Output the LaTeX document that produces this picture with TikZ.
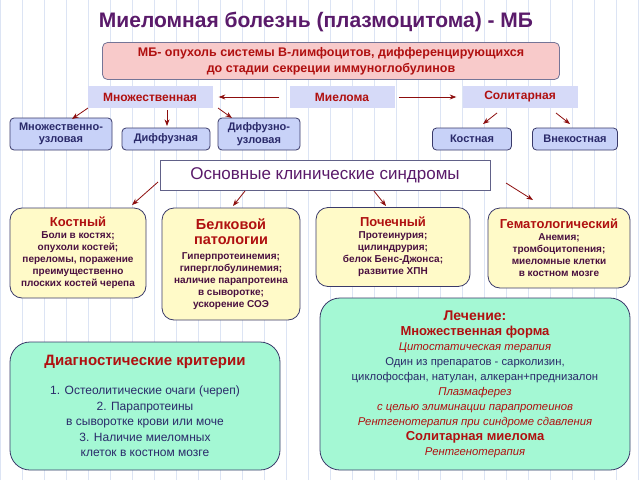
\documentclass[tikz,border=0pt]{standalone}
\usepackage{fontspec}
\setmainfont{Liberation Sans}
\usetikzlibrary{arrows.meta}
\definecolor{titlec}{HTML}{5A1A6A}
\definecolor{redc}{HTML}{B01010}
\definecolor{bodyc}{HTML}{4A1040}
\definecolor{bluec}{HTML}{2A2A6A}
\definecolor{pinkc}{HTML}{F8CACA}
\definecolor{lavc}{HTML}{D6DAF8}
\definecolor{subc}{HTML}{C8D2F8}
\definecolor{yelc}{HTML}{FFFAC8}
\definecolor{mintc}{HTML}{A4F8D4}
\definecolor{edgec}{HTML}{3A3A6A}
\definecolor{gridc}{HTML}{DCE4F4}
\tikzset{>={Stealth[scale=1]}}
\tikzset{
  lbl/.style={fill=lavc, font=\bfseries\fontsize{12}{14}\selectfont, text=redc, inner sep=0pt},
  subbox/.style={draw=edgec, thick, fill=subc, rounded corners=4pt, font=\bfseries\fontsize{11}{12.5}\selectfont, text=bluec, align=center, inner sep=0pt},
  synbox/.style={draw=edgec, thick, fill=yelc, rounded corners=12pt, align=center, inner sep=0pt, text=bodyc, font=\bfseries\fontsize{10}{12}\selectfont},
  bigbox/.style={draw=edgec, thick, fill=mintc, rounded corners=20pt, align=center, inner sep=0pt, text=bluec},
  arr/.style={->, draw=redc!80!black, thick}
}
\newcommand{\hd}[1]{{\color{redc}\fontsize{13}{15}\selectfont #1}}
\newcommand{\hdb}[1]{{\color{redc}\fontsize{14.5}{17}\selectfont #1}}
\begin{document}
\begin{tikzpicture}[x=1pt,y=-1pt]
\useasboundingbox (0,0) rectangle (640,480);
\fill[white] (0,0) rectangle (640,480);
\draw[gridc, step=22] (0,0) grid (640,480);

\node[font=\bfseries\fontsize{21}{24}\selectfont, text=titlec] (title) at (316,22) {Миеломная болезнь (плазмоцитома) - МБ};

\node[draw=edgec!70, thick, fill=pinkc, rounded corners=5pt, minimum width=457, minimum height=37, align=center,
  font=\bfseries\fontsize{12.5}{16}\selectfont, text=redc] (def) at (331,61)
  {МБ- опухоль системы В-лимфоцитов, дифференцирующихся\\до стадии секреции иммуноглобулинов};

\node[lbl, minimum width=125, minimum height=22] (mult) at (150,97) {Множественная};
\node[lbl, minimum width=105, minimum height=22] (myel) at (342,97) {Миелома};
\node[lbl, minimum width=115, minimum height=22] (sol) at (520,97) {Солитарная};
\draw[arr] ([xshift=-10]myel.west) -- ([xshift=6]mult.east);
\draw[arr] ([xshift=4]myel.east) -- ([xshift=-6]sol.west);

\node[subbox, minimum width=102, minimum height=32] (mnu) at (61,134) {Множественно-\\узловая};
\node[subbox, minimum width=88, minimum height=22] (dif) at (166,139) {Диффузная};
\node[subbox, minimum width=82, minimum height=32] (dnu) at (259,134) {Диффузно-\\узловая};
\node[subbox, minimum width=79, minimum height=22] (kost) at (472,139) {Костная};
\node[subbox, minimum width=85, minimum height=22] (vnek) at (575,139) {Внекостная};
\coordinate (m1) at (88,108); \coordinate (m2) at (72,119);
\coordinate (m3) at (167,110); \coordinate (m4) at (167,126);
\coordinate (m5) at (218,108); \coordinate (m6) at (232,118);
\coordinate (s1) at (497,113); \coordinate (s2) at (483,124);
\coordinate (s3) at (556,113); \coordinate (s4) at (570,124);
\draw[arr] (m1) -- (m2);
\draw[arr] (m3) -- (m4);
\draw[arr] (m5) -- (m6);
\draw[arr] (s1) -- (s2);
\draw[arr] (s3) -- (s4);

\node[draw=edgec!80, thick, fill=white, minimum width=330, minimum height=30, text=titlec,
  font=\fontsize{17}{19}\selectfont] (synd) at (325,175) {Основные клинические синдромы};

\node[synbox, minimum width=136, minimum height=90] (bone) at (78,253)
  {\hd{Костный}\\Боли в костях;\\опухоли костей;\\переломы, поражение\\преимущественно\\плоских костей черепа};
\node[synbox, minimum width=138, minimum height=112] (prot) at (231,264)
  {\hdb{Белковой}\\[3pt]\hdb{патологии}\\[3pt]Гиперпротеинемия;\\гиперглобулинемия;\\наличие парапротеина\\в сыворотке;\\ускорение СОЭ};
\node[synbox, minimum width=154, minimum height=79] (kid) at (393,247)
  {\hd{Почечный}\\Протеинурия;\\цилиндрурия;\\белок Бенс-Джонса;\\развитие ХПН};
\node[synbox, minimum width=142, minimum height=80] (hem) at (559,248)
  {\hd{Гематологический}\\Анемия;\\тромбоцитопения;\\миеломные клетки\\в костном мозге};
\coordinate (c1) at (158,182); \coordinate (c2) at (132,205);
\coordinate (c3) at (245,191); \coordinate (c4) at (233,206);
\coordinate (c5) at (374,191); \coordinate (c6) at (386,206);
\coordinate (c7) at (506,183); \coordinate (c8) at (533,200);
\draw[arr] (c1) -- (c2);
\draw[arr] (c3) -- (c4);
\draw[arr] (c5) -- (c6);
\draw[arr] (c7) -- (c8);

\node[bigbox, minimum width=270, minimum height=128, font=\fontsize{12}{15.5}\selectfont] (diag) at (145,406)
  {{\color{redc}\bfseries\fontsize{15}{17}\selectfont Диагностические критерии}\\[14pt]
   1. Остеолитические очаги (череп)\\2. Парапротеины\\в сыворотке крови или моче\\3. Наличие миеломных\\клеток в костном мозге};
\node[bigbox, minimum width=310, minimum height=172, font=\fontsize{11.3}{15}\selectfont] (treat) at (475,384)
  {{\color{redc}\bfseries\fontsize{14}{16}\selectfont Лечение:}\\
   {\color{redc}\bfseries\fontsize{13}{15}\selectfont Множественная форма}\\
   {\color{redc}\itshape Цитостатическая терапия}\\
   Один из препаратов - сарколизин,\\циклофосфан, натулан, алкеран+преднизалон\\
   {\color{redc}\itshape Плазмаферез}\\{\color{redc}\itshape с целью элиминации парапротеинов}\\
   {\color{redc}\itshape Рентгенотерапия при синдроме сдавления}\\
   {\color{redc}\bfseries\fontsize{13}{15}\selectfont Солитарная миелома}\\
   {\color{redc}\itshape Рентгенотерапия}};
\end{tikzpicture}
\end{document}
